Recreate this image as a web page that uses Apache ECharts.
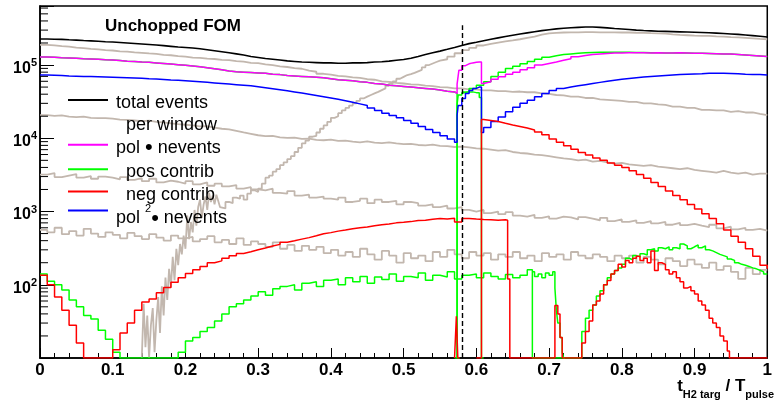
<!DOCTYPE html>
<html><head><meta charset="utf-8">
<script src="https://cdn.jsdelivr.net/npm/echarts@6/dist/echarts.min.js"></script>
<style>html,body{margin:0;padding:0;background:#fff;}#chart{width:775px;height:409px;}</style>
</head><body><div id="chart"></div>
<script>
// ---------------- data ----------------
// Histograms: plain arrays are bins (width 0.01 unless noted) starting at the given x; [x,y] pairs are bin left edges.
const BIN = 0.01;
const yLabelExponents = [2, 3, 4, 5];

const totalEvents = [
 227000,225000,224000,221000,219000,216000,214000,211000,208000,206000,
 203000,200000,197000,194000,191000,188000,184000,180000,176000,174000,
 171000,167000,162000,157000,152000,147000,142000,137000,131000,127000,
 123000,120000,117000,114000,112000,110000,109000,108000,107000,107000,
 106000,106000,107000,107000,108000,110000,111000,113000,116000,119000,
 124000,131000,139000,147000,155000,164000,174000,185000,196000,205000,
 215000,225000,235000,245000,255000,265000,275000,285000,295000,304000,
 312000,318000,323000,327000,330000,330000,327000,322000,315000,310000,
 305000,300000,296000,293000,290000,288000,286000,284000,282000,280000,
 278000,276000,273000,270000,266000,262000,257000,252000,247000,242000];

const greyUpper = [
 188000,185000,181000,178000,173000,170000,166000,164000,160000,158000,
 154000,152000,149000,147000,144000,142000,138000,136000,132000,130000,
 126000,125000,122000,121000,118000,117000,113000,111000,107000,106000,
 102000,100000,96000,94000,91000,89000,84000,81000,76000,74000,
 71000,70000,68000,67000,64000,63000,60000,59000,57000,56000,
 54500,54000,52500,51500,50000,49500,48000,48000,46500,46500,
 45000,45000,44000,44000,43000,43500,42500,42500,41000,40500,
 39000,38500,37000,37000,35500,35500,34000,33500,33000,32500,
 31500,31500,30000,30000,29000,28500,27000,27000,26000,26000,
 24500,24500,24000,24000,23000,23500,22500,22500,21500,20700];

const greyRiseNoisy = [
 [0.1400,10],[0.1425,55],[0.1450,14],[0.1475,38],[0.1500,10],[0.1525,28],[0.1550,48],[0.1575,12],
 [0.1600,33],[0.1625,68],[0.1650,22],[0.1675,95],[0.1700,38],[0.1725,125],[0.1750,62],[0.1775,165],
 [0.1800,92],[0.1825,240],[0.1850,115],[0.1875,310],[0.1900,185],[0.1925,360],[0.1950,260],[0.1975,470],
 [0.2000,310],[0.2025,880],[0.2050,420],[0.2075,720],[0.2100,520],[0.2125,1050],[0.2150,640],[0.2175,1150],
 [0.2200,1450],[0.2225,820],[0.2250,1250],[0.2275,1600],[0.2300,1050],[0.2325,1800],[0.2350,1350],[0.2375,1650],
 [0.2400,1250],[0.2425,1700],[0.2450,1400],[0.2475,1150]];
const greyRiseFine = [ // bins of 0.005 from 0.25 to 0.55
 1100,1350,1300,1550,1500,1650,1450,1750,1950,1850,
 2050,2400,2900,3100,3500,3800,4300,4700,5200,5700,
 6500,7400,8500,9300,10500,10800,12000,13500,15000,16800,
 19000,20000,22000,24000,26000,28000,30000,32500,35000,37000,
 39000,41000,43000,45500,48000,52000,56000,60000,65000,69000,
 73000,75000,78000,82000,86000,93000,100000,105000,110000,115000];
const greyRise = [ // bins of 0.01 from 0.55
 120000,130000,145000,160000,172000,185000,195000,203000,210000,217000,
 225000,235000,245000,260000,270000,275000,278000,280000,280000,282000,
 282000,280000,280000,280000,278000,278000,276000,275000,272000,270000,
 268000,262000,258000,255000,252000,250000,250000,247000,245000,240000,
 238000,235000,232000,228000,225000];

const greyMid = [
 20700,20200,20500,19800,19500,19700,19000,18800,18900,18500,
 18000,17800,17500,17200,17400,16800,16500,16000,15600,15300,
 15000,14500,14600,14000,13500,13200,12600,12000,11500,11000,
 10700,10800,10300,10100,10200,9800,9900,9500,9400,9600,
 9200,9300,9000,8800,9100,8700,8600,8800,8500,8300,
 8400,8100,8000,8200,7900,7800,7600,7700,7500,7300,
 7200,7000,6800,6900,6500,6300,6200,6000,5900,5700,
 5500,5300,5200,5000,5100,4800,4900,4700,4500,4600,
 4400,4300,4200,4300,4100,4000,3900,3800,3900,3700,
 3600,3500,3400,3600,3400,3300,3400,3200,3300,3300];

const greyLow1 = [
 3200,3350,2950,3100,3250,2900,3050,2800,3000,2900,
 2750,2950,2700,2850,2600,2800,2500,2650,2550,2400,
 2600,2350,2500,2250,2400,2200,2300,2050,2150,2000,
 1950,2050,1800,1750,1900,1650,1700,1550,1600,1500,
 1450,1550,1350,1400,1500,1300,1450,1350,1400,1250,
 1350,1300,1200,1250,1150,1200,1100,1150,1050,1000,
 1050,950,1000,920,980,880,850,900,820,860,
 800,850,830,780,840,800,760,820,740,780,
 720,760,700,740,690,720,660,700,650,680,
 640,610,660,590,620,570,600,560,580,550];

const greyLow2 = [
 560,520,600,490,540,470,580,500,450,520,
 480,430,510,460,420,490,440,400,470,430,
 450,390,420,460,380,410,360,430,350,390,
 360,330,380,310,350,290,340,300,330,270,
 300,250,280,240,310,260,220,290,250,200,
 270,230,250,210,280,240,300,260,230,280,
 250,270,220,260,240,280,230,250,210,270,
 240,260,220,280,250,230,260,240,210,250,
 230,250,200,240,220,190,230,210,180,220,
 190,170,200,160,180,150,120,170,140,160];

const polLeft = [ // pol * nevents, bins 0 .. 0.56
 129000,128000,126000,125000,124000,122000,121000,120000,118000,117000,
 115000,113000,112000,110000,109000,107000,105000,103000,101000,99000,
 97000,95000,92000,89000,86000,83000,81000,80000,79000,78000,
 77000,75000,74000,72000,71000,70000,69000,68000,67000,65000,
 63000,62000,61000,59000,58000,56000,55000,53000,52000,51000,
 50000,49000,48000,47000,45500,44000,43000];
const polRight = [
 [0.570,41000],[0.5735,55000],[0.576,85000],[0.580,98000],[0.585,104000],[0.590,107000],[0.595,109000],
 [0.600,110000],[0.604,110000],[0.607,56000],[0.610,59000],[0.620,64000],[0.630,69000],[0.640,75000],
 [0.650,80000],[0.660,86000],[0.670,92000],[0.680,100000],[0.690,105000],[0.700,110000],[0.710,116000],
 [0.720,122000],[0.730,130000],[0.740,135000],[0.750,139000],[0.760,142000],[0.770,144000],[0.780,146000],
 [0.790,146000],[0.800,147000],[0.810,147000],[0.820,147000],[0.830,146000],[0.840,147000],[0.850,146000],
 [0.860,146000],[0.870,147000],[0.880,146000],[0.890,145000],[0.900,145000],[0.910,144000],[0.920,143000],
 [0.930,142000],[0.940,141000],[0.950,139000],[0.960,137000],[0.970,135000],[0.980,133000],[0.990,131000],
 [1.000,130000]];

const posTopDrop = [[0.570,41000],[0.5735,10],[0.577,10]];
const posMid = [[0.570,10],[0.5735,29000],[0.575,39000],[0.580,42000],[0.585,43000],[0.590,43000],
 [0.595,42000],[0.600,42000],[0.604,36000],[0.607,10],[0.610,10]];
const posRise = [
 [0.580,43000],[0.590,48000],[0.600,53000],[0.610,59000],[0.620,70000],[0.630,80000],[0.640,90000],
 [0.650,96000],[0.660,104000],[0.670,112000],[0.680,120000],[0.690,128000],[0.700,134000],[0.710,139000],
 [0.720,142000],[0.730,145000],[0.740,147000],[0.750,148000],[0.760,149000],[0.770,149000],[0.780,149000],
 [0.790,149000],[0.800,149000],[0.810,148000],[0.820,148000],[0.830,147000],[0.840,147000],[0.850,146000],
 [0.860,146000],[0.870,147000],[0.880,146000],[0.890,145000],[0.900,145000],[0.910,144000],[0.920,143000],
 [0.930,142000],[0.940,141000],[0.950,139000],[0.960,137000],[0.970,135000],[0.980,133000],[0.990,131000],
 [1.000,130000]];
const posLowLeft = [
 140,112,100,85,62,50,38,34,24,18,
 12,10,10,10,10,10,10,10,10,12,
 17,19,23,26,32,40,50,55,62,70,
 80,72,88,95,100,85,105,110,95,115,
 120,100,125,110,130,105,128,118,140,112,
 130,125,145,115,135,128,150,120,135,140,
 125,145,130,120,138,125,135];
const posLowRight = [
 [0.670,160],[0.677,10],[0.745,23],[0.750,35],[0.755,45],[0.760,53],[0.765,70],[0.770,83],[0.775,100],
 [0.780,125],[0.785,140],[0.790,156],[0.795,170],[0.800,190],[0.805,230],[0.810,220],[0.815,250],
 [0.820,240],[0.825,265],[0.830,255],[0.835,300],[0.840,310],[0.845,290],[0.850,320],[0.855,310],
 [0.860,330],[0.865,300],[0.870,320],[0.875,310],[0.880,360],[0.885,340],[0.890,310],[0.895,330],
 [0.900,350],[0.905,320],[0.910,340],[0.915,300],[0.920,290],[0.925,275],[0.930,260],[0.935,250],
 [0.940,240],[0.945,225],[0.950,215],[0.955,200],[0.960,190],[0.965,185],[0.970,178],[0.975,170],
 [0.980,165],[0.985,158],[0.990,150],[0.995,140],[1.000,140]];
const posLowTail = [[0.677,150],[0.680,130],[0.685,140],[0.690,125],[0.695,145],[0.700,135],[0.705,150],
 [0.708,90],[0.710,45],[0.712,30],[0.715,19],[0.718,12],[0.720,10],[0.722,10]];

const pol2Left = [ // pol^2 * nevents, bins 0 .. 0.56
 73000,72500,72000,71000,70500,70000,69500,69000,68500,68000,
 67500,67000,66500,66000,65000,64500,63500,62500,62000,61000,
 60000,59000,58000,57000,56000,55000,54000,53000,52000,50500,
 49000,47500,46000,44500,43000,41500,40000,38500,37000,35500,
 34000,32500,31000,29500,28000,26000,24000,22000,20500,19000,
 17500,16000,14500,13200,12000,10800,9800];
const pol2Right = [
 [0.570,8800],[0.5735,20700],[0.575,28000],[0.580,35000],[0.585,41000],[0.590,45000],[0.595,48000],
 [0.600,50000],[0.604,50000],[0.607,12000],[0.610,14000],[0.620,17000],[0.630,19500],[0.640,23000],
 [0.650,26500],[0.660,30000],[0.670,33000],[0.680,37000],[0.690,41000],[0.700,45000],[0.710,48000],
 [0.720,50000],[0.730,52000],[0.740,54000],[0.750,56000],[0.760,58000],[0.770,60000],[0.780,62000],
 [0.790,64000],[0.800,65500],[0.810,67000],[0.820,68500],[0.830,70000],[0.840,71000],[0.850,72000],
 [0.860,73000],[0.870,74000],[0.880,75000],[0.890,75500],[0.900,76000],[0.910,77000],[0.920,77000],
 [0.930,77000],[0.940,76500],[0.950,76000],[0.960,75000],[0.970,74500],[0.980,74000],[0.990,73000],
 [1.000,73000]];

const negLowLeft = [
 135,100,68,45,28,16,10,10,10,10,
 13,22,30,45,58,64,78,92,108,125,
 142,160,178,200,212,230,248,268,282,300,
 318,338,356,380,398,420,440,468,498,515,
 540,558,582,600,615,640,662,676,700,712,
 728,752,760,785,800,790,812,722,805,790,
 778,772,760,772];
const negLowRight = [
 [0.640,760],[0.643,120],[0.646,10],[0.708,52],[0.712,40],[0.715,19],[0.718,10],[0.745,16],[0.750,23],
 [0.755,32],[0.760,53],[0.765,60],[0.770,75],[0.775,100],[0.780,114],[0.785,140],[0.790,156],[0.795,190],
 [0.800,175],[0.805,215],[0.810,200],[0.815,230],[0.820,245],[0.825,215],[0.830,230],[0.835,200],
 [0.840,290],[0.845,156],[0.850,200],[0.855,190],[0.860,160],[0.865,140],[0.870,150],[0.875,125],
 [0.880,110],[0.885,90],[0.890,95],[0.895,83],[0.900,75],[0.905,60],[0.910,53],[0.915,45],[0.920,35],
 [0.925,30],[0.930,26],[0.935,20],[0.940,17],[0.945,12.5],[0.948,10],[1.000,10]];
const negUpper = [
 [0.600,10],[0.607,18000],[0.610,17500],[0.620,17000],[0.630,16000],[0.640,15200],[0.650,14500],
 [0.660,13800],[0.670,13000],[0.680,12200],[0.690,11200],[0.700,9800],[0.710,8800],[0.720,7900],
 [0.730,7100],[0.740,6400],[0.750,5900],[0.760,5400],[0.770,5000],[0.780,4600],[0.790,4300],
 [0.800,4000],[0.810,3600],[0.820,3200],[0.830,2850],[0.840,2500],[0.850,2200],[0.860,1900],
 [0.870,1650],[0.880,1450],[0.890,1250],[0.900,1080],[0.910,930],[0.920,800],[0.930,680],[0.940,560],
 [0.950,460],[0.960,380],[0.970,310],[0.980,245],[0.990,185],[1.000,165]];
const negSpike = [[0.5700,10],[0.5725,37],[0.5745,10],[0.577,10]];

const windowMarkX = 0.58;

// ---------------- helpers ----------------
function bins(vals, x0, w) { const bw = w || BIN; return vals.map((v, i) => [+(x0 + i * bw).toFixed(4), v]); }
function closeAt(pairs, xEnd) { return pairs.concat([[xEnd, pairs[pairs.length - 1][1]]]); }

const FONT = 'Liberation Sans';
const GREY = '#c2b7ae';
function hist(name, color, data, width, extra) {
  return Object.assign({
    name, type: 'line', step: 'end', data, symbol: 'none', showSymbol: false,
    lineStyle: { color, width }, itemStyle: { color }, silent: true, clip: true, animation: false
  }, extra || {});
}

const yMinorTicks = [];
for (let e = 1; e <= 5; e++) for (let k = 2; k <= 9; k++) {
  const v = k * Math.pow(10, e); if (v < 640000) yMinorTicks.push(v);
}

const series = [
  hist('g1', GREY, closeAt(bins(greyUpper, 0), 1), 1.8),
  hist('g2', GREY, closeAt(greyRiseNoisy.concat(bins(greyRiseFine, 0.25, 0.005), bins(greyRise, 0.55)), 1), 1.8),
  hist('g3', GREY, closeAt(bins(greyMid, 0), 1), 1.8),
  hist('g4', GREY, closeAt(bins(greyLow1, 0), 1), 1.8),
  hist('g5', GREY, closeAt(bins(greyLow2, 0), 1), 1.8),
  hist('total events', '#000000', closeAt(bins(totalEvents, 0), 1), 1.6, {
    markLine: { silent: true, symbol: 'none', animation: false, label: { show: false },
      lineStyle: { color: '#000', type: [5, 3], width: 1.4 },
      data: [[{ coord: [windowMarkX, 10] }, { coord: [windowMarkX, 350000] }]] }
  }),
  { name: 'per window', type: 'line', data: [], symbol: 'none', lineStyle: { width: 0, opacity: 0 } },
  hist('pos contrib', '#00ff00', bins(polLeft, 0).concat(posTopDrop), 1.5),
  hist('pos contrib', '#00ff00', posMid, 1.5),
  hist('pos contrib', '#00ff00', posRise, 1.5),
  hist('pol • nevents', '#ff00ff', bins(polLeft, 0).concat(polRight), 1.5),
  hist('pol2 nevents', '#0000ff', bins(pol2Left, 0).concat(pol2Right), 1.5),
  hist('pos contrib', '#00ff00', bins(posLowLeft, 0).concat(posLowRight), 1.5),
  hist('pos contrib', '#00ff00', posLowTail, 1.5),
  hist('neg contrib', '#ff0000', bins(negLowLeft, 0).concat(negLowRight), 1.5),
  hist('neg contrib', '#ff0000', negUpper, 1.5),
  hist('neg contrib', '#ff0000', negSpike, 1.5),
  { name: '_yminor', type: 'custom', silent: true, clip: false, z: 6, animation: false,
    data: yMinorTicks.map(v => [0, v]),
    renderItem: (p, api) => {
      const c = api.coord([api.value(0), api.value(1)]);
      return { type: 'line', shape: { x1: c[0], y1: c[1], x2: c[0] + 8, y2: c[1] },
               style: { stroke: '#000', lineWidth: 1 } };
    } }
];

const legendLabels = {
  'total events': 'total events',
  'per window': '  per window',
  'pol • nevents': 'pol {d|•} nevents',
  'pos contrib': '  pos contrib',
  'neg contrib': '  neg contrib',
  'pol2 nevents': 'pol {sup|2}{d|•} nevents'
};
const legendRich = {
  d: { fontFamily: FONT, fontSize: 22, lineHeight: 16 },
  sup: { fontFamily: FONT, fontSize: 11, verticalAlign: 'top', lineHeight: 31, padding: [0, 0, 20, 0] }
};
const legendCommon = {
  orient: 'vertical', left: 67, padding: 0, itemWidth: 40, itemHeight: 14, selectedMode: false,
  itemStyle: { opacity: 0, borderWidth: 0 }, formatter: n => legendLabels[n]
};

const option = {
  animation: false,
  backgroundColor: '#ffffff',
  title: { text: 'Unchopped FOM', left: 105, top: 18, padding: 0,
    textStyle: { fontFamily: FONT, fontSize: 17, fontWeight: 'bold', color: '#000' } },
  grid: { left: 40, right: 2, top: 6, bottom: 51, show: true, borderColor: '#000', borderWidth: 1.5, containLabel: false },
  legend: [
    Object.assign({}, legendCommon, {
      top: 89, itemGap: -0.6,
      textStyle: { fontFamily: FONT, fontSize: 18, color: '#000', lineHeight: 16, padding: [6, 0, 0, 3], rich: legendRich },
      data: [
        { name: 'total events' },
        { name: 'per window', icon: 'none', lineStyle: { opacity: 0 }, itemStyle: { opacity: 0 } },
        { name: 'pol • nevents' }, { name: 'pos contrib' }, { name: 'neg contrib' }
      ]
    }),
    Object.assign({}, legendCommon, {
      top: 187, itemGap: 0,
      textStyle: { fontFamily: FONT, fontSize: 18, color: '#000', lineHeight: 16, padding: [16, 0, 0, 3], rich: legendRich },
      data: [{ name: 'pol2 nevents' }]
    })
  ],
  xAxis: {
    type: 'value', min: 0, max: 1, interval: 0.1,
    axisLine: { show: true, onZero: false, lineStyle: { color: '#000', width: 1.5 } },
    axisTick: { show: true, inside: true, length: 10, lineStyle: { color: '#000', width: 1 } },
    minorTick: { show: true, splitNumber: 5, length: 5, lineStyle: { color: '#000', width: 1 } },
    splitLine: { show: false },
    axisLabel: { margin: 4, fontFamily: FONT, fontSize: 17, fontWeight: 'bold', color: '#000' }
  },
  yAxis: {
    type: 'log', logBase: 10, min: 10, max: 640000,
    axisLine: { show: true, lineStyle: { color: '#000', width: 1.5 } },
    axisTick: { show: true, inside: true, length: 14, lineStyle: { color: '#000', width: 1 } },
    minorTick: { show: false },
    splitLine: { show: false },
    axisLabel: {
      margin: 3, color: '#000', padding: [4, 0, 0, 0],
      formatter: v => {
        const e = Math.round(Math.log10(v));
        if (Math.abs(Math.log10(v) - e) > 1e-6 || yLabelExponents.indexOf(e) < 0) return '';
        return '{b|10}{s|' + e + '}';
      },
      rich: {
        b: { fontFamily: FONT, fontSize: 16, fontWeight: 'bold', color: '#000', verticalAlign: 'bottom' },
        s: { fontFamily: FONT, fontSize: 11, fontWeight: 'bold', color: '#000', verticalAlign: 'top', padding: [0, 0, 8, 0] }
      }
    }
  },
  graphic: [{
    type: 'text', right: 1, top: 378, silent: true,
    style: {
      text: '{m|t}{s|H2 targ}{m| / T}{s|pulse}', fill: '#000',
      rich: {
        m: { fontFamily: FONT, fontSize: 17, fontWeight: 'bold', verticalAlign: 'top' },
        s: { fontFamily: FONT, fontSize: 11, fontWeight: 'bold', verticalAlign: 'bottom', padding: [11, 0, 0, 0] }
      }
    }
  }],
  series
};

const chart = echarts.init(document.getElementById('chart'), null, { renderer: 'canvas' });
chart.setOption(option);
</script></body></html>
